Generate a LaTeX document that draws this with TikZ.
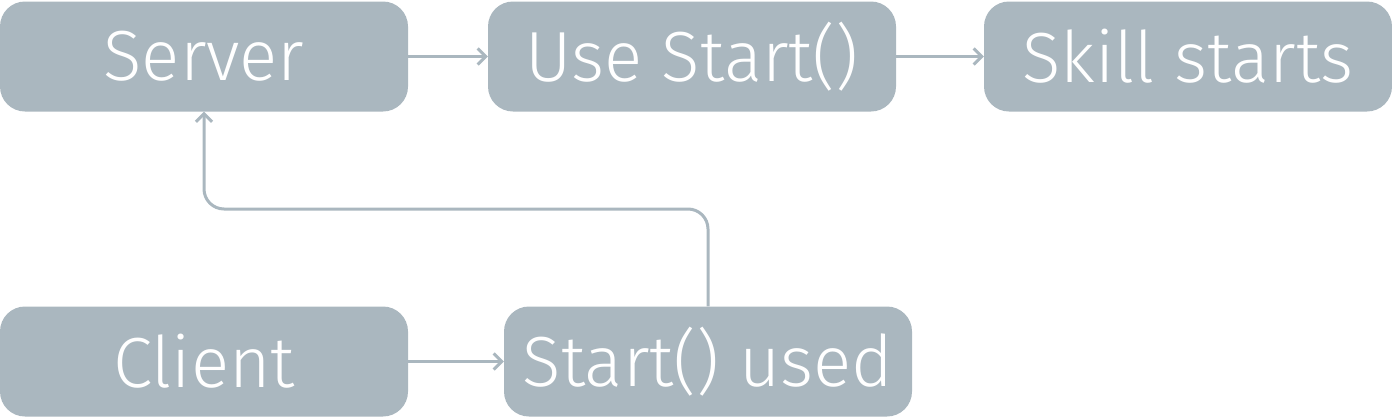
\documentclass[tikz,border=0pt]{standalone}
\usepackage{fontspec}
\setmainfont{Fira Sans}[UprightFont=* Light]
\usetikzlibrary{arrows.meta}
\definecolor{boxgray}{HTML}{AAB7BF}

\begin{document}
\begin{tikzpicture}[x=1pt, y=-1pt,
		stepbox/.style={fill=boxgray, rounded corners=25pt, minimum width=408pt, minimum height=110pt, inner sep=0pt, text=white, font=\fontsize{71}{75}\selectfont},
		link/.style={draw=boxgray, line width=3pt, -{Straight Barb[length=8pt, width=16pt, line width=3pt]}}]
		\useasboundingbox (0, 0) rectangle (1392, 418);
		% top row
		\node[stepbox] (server) at (204, 56.5) {Server};
		\node[stepbox] (usestart) at (692, 56.5) {Use Start()};
		\node[stepbox] (skill) at (1188, 56.5) {Skill starts};
		% bottom row
		\node[stepbox] (client) at (204, 361.5) {Client};
		\node[stepbox] (used) at (708, 361.5) {Start() used};
		\coordinate (bend) at (456, 209);
		% connectors
		\draw[link] (server) -- (usestart);
		\draw[link] (usestart) -- (skill);
		\draw[link] (client) -- (used);
		\draw[link, rounded corners=20pt] (used.north) |- (bend) -| (server.south);
\end{tikzpicture}
\end{document}
